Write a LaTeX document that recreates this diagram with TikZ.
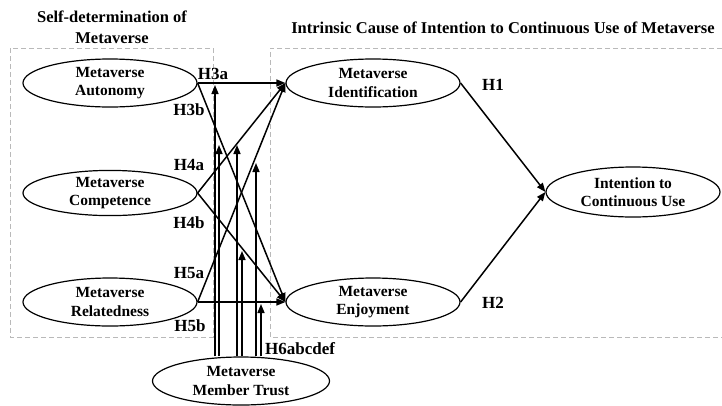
\documentclass[tikz,border=0pt]{standalone}
\usepackage{fontspec}
\setmainfont{Liberation Serif}
\usetikzlibrary{shapes.geometric,arrows.meta}

\tikzset{
    construct/.style={ellipse, draw, line width=1.2pt, minimum width=174pt, minimum height=48pt,
        inner sep=0pt, align=center, font=\fontsize{15.5}{18.5}\selectfont\bfseries},
    hyp/.style={line width=1.5pt, -{Triangle[length=9pt,width=7pt]}},
    hlabel/.style={font=\fontsize{17}{20}\selectfont\bfseries, inner sep=0pt},
    group/.style={dash pattern=on 5pt off 3pt, gray!55, line width=0.8pt},
    heading/.style={font=\fontsize{16.5}{21}\selectfont\bfseries, align=center, inner sep=0pt}
}

\begin{document}
\begin{tikzpicture}[x=1pt,y=-1pt]
    \useasboundingbox (0,0) rectangle (722,405);
    % groups
    \draw[group] (10,48) rectangle (213,337);
    \draw[group] (722,48) -- (270,48) -- (270,337) -- (722,337);
    \node[heading] (selfdet) at (112,27) {Self-determination of\\Metaverse};
    \node[heading] (intrinsic) at (503,28) {Intrinsic Cause of Intention to Continuous Use of Metaverse};
    % constructs
    \node[construct] (autonomy) at (110,83) {Metaverse\\Autonomy};
    \node[construct, minimum height=45pt] (competence) at (110,193) {Metaverse\\Competence};
    \node[construct] (relatedness) at (110,302) {Metaverse\\Relatedness};
    \node[construct] (identification) at (373,83) {Metaverse\\Identification};
    \node[construct] (enjoyment) at (373,302) {Metaverse\\Enjoyment};
    \node[construct, minimum height=50pt] (intention) at (633,192) {Intention to\\Continuous Use};
    \node[construct, minimum width=177pt] (trust) at (241,381) {Metaverse\\Member Trust};
    % hypotheses
    \draw[hyp] (autonomy.east) -- (identification.west);
    \draw[hyp] (autonomy.east) -- (enjoyment.west);
    \draw[hyp] (competence.east) -- (identification.west);
    \draw[hyp] (competence.east) -- (enjoyment.west);
    \draw[hyp] (relatedness.east) -- (identification.west);
    \draw[hyp] (relatedness.east) -- (enjoyment.west);
    \draw[hyp] (identification.east) -- (intention.west);
    \draw[hyp] (enjoyment.east) -- (intention.west);
    % moderation by trust
    \foreach \x/\y [count=\i] in {215/85, 219/145, 237/145, 242/251, 256/163, 261/304}
        \coordinate (t\i) at (\x,\y);
    \foreach \i in {1,...,6}
        \draw[hyp] (trust.north -| t\i) -- (t\i);
    % labels
    \node[hlabel] (h3a) at (213,74) {H3a};
    \node[hlabel] (h3b) at (189,110) {H3b};
    \node[hlabel] (h4a) at (189,165) {H4a};
    \node[hlabel] (h4b) at (189,223) {H4b};
    \node[hlabel] (h5a) at (189,273) {H5a};
    \node[hlabel] (h5b) at (190,326) {H5b};
    \node[hlabel] (h1) at (493,85) {H1};
    \node[hlabel] (h2) at (493,303) {H2};
    \node[hlabel, anchor=west] (h6) at (265,349) {H6abcdef};
\end{tikzpicture}
\end{document}
